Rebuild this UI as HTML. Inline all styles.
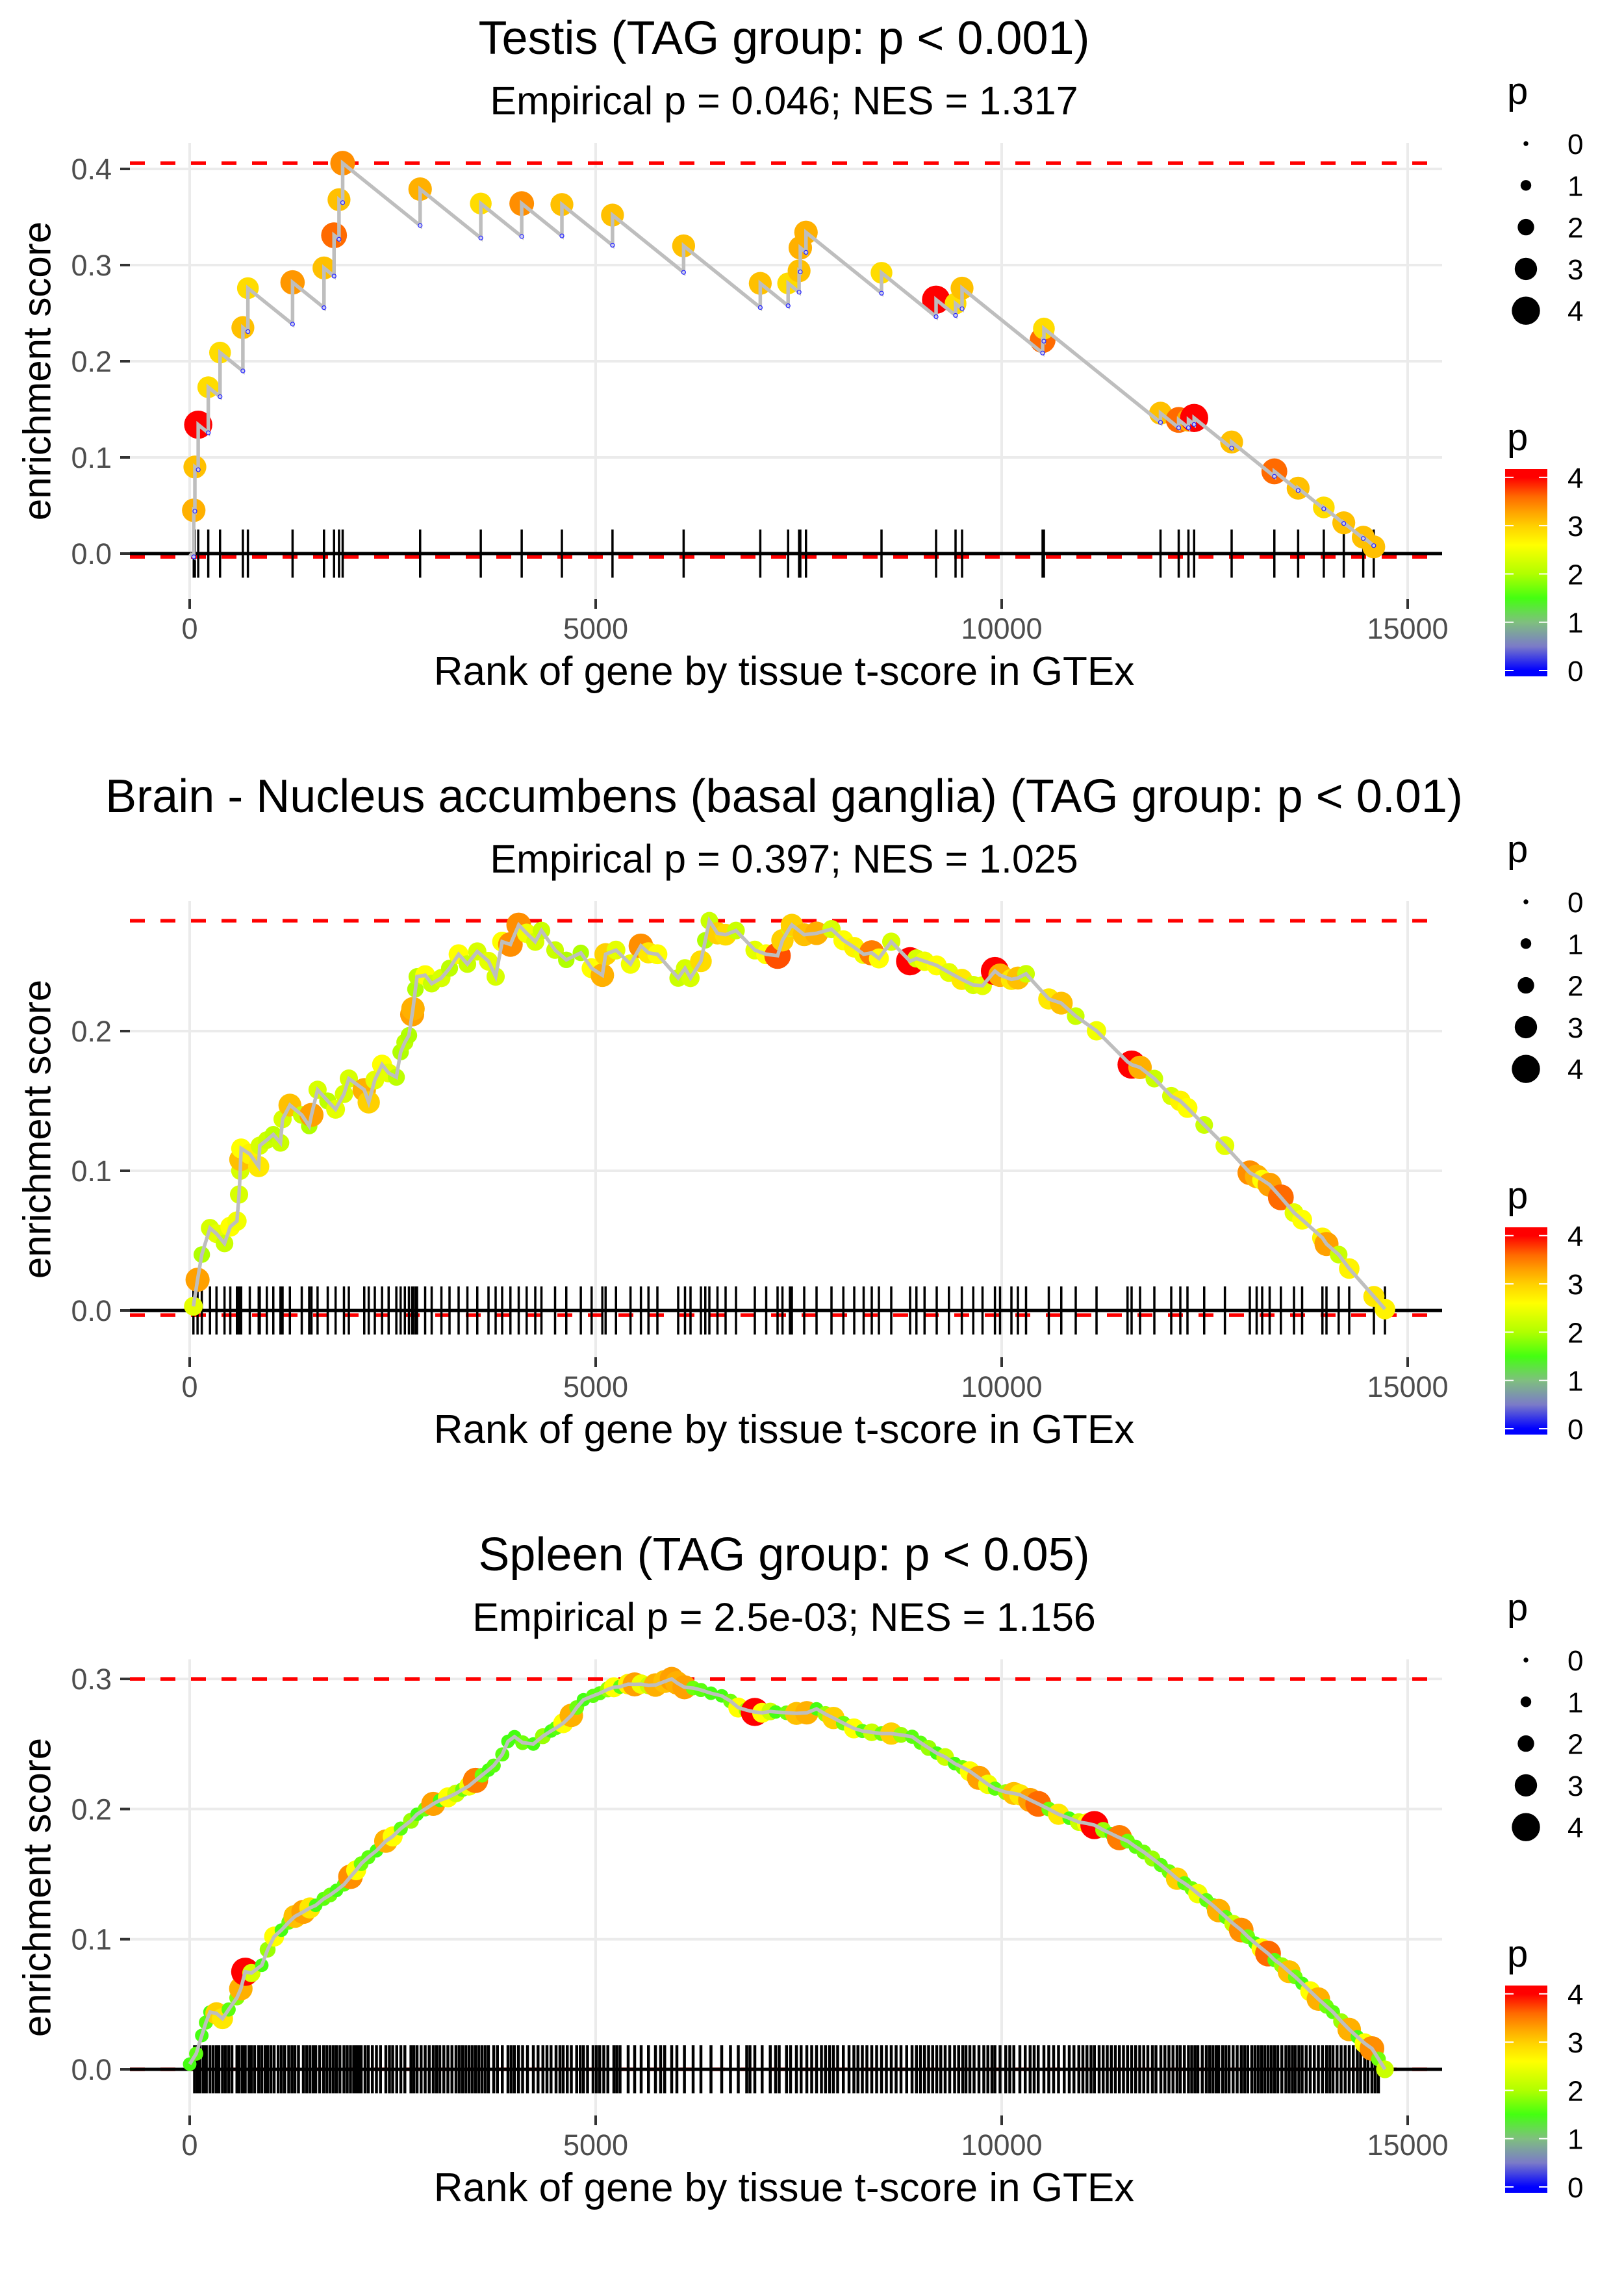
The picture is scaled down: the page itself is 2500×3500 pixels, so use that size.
<!DOCTYPE html>
<html><head><meta charset="utf-8"><style>
html,body{margin:0;padding:0;background:#fff}
svg{display:block}
text{font-family:"Liberation Sans",Arial,sans-serif}
</style></head><body>
<svg id="chart" xmlns="http://www.w3.org/2000/svg" width="2500" height="3500" viewBox="0 0 2500 3500">
<defs>
<linearGradient id="pgrad" gradientUnits="userSpaceOnUse" x1="0" y1="1032" x2="0" y2="735">
<stop offset="0" stop-color="#0000ff"/><stop offset="0.125" stop-color="#7b7bc8"/><stop offset="0.25" stop-color="#7fbf7f"/><stop offset="0.375" stop-color="#44ff11"/><stop offset="0.5" stop-color="#b0ff00"/><stop offset="0.65" stop-color="#ffff00"/><stop offset="0.75" stop-color="#ffd000"/><stop offset="0.825" stop-color="#ffa000"/><stop offset="0.9" stop-color="#ff6a00"/><stop offset="1" stop-color="#ff0000"/>
</linearGradient>
</defs>
</svg>
<script>
// ---------- data ----------
const panelTitles = ["Testis (TAG group: p < 0.001)", "Brain - Nucleus accumbens (basal ganglia) (TAG group: p < 0.01)", "Spleen (TAG group: p < 0.05)"];
const panelSubtitles = ["Empirical p = 0.046; NES = 1.317", "Empirical p = 0.397; NES = 1.025", "Empirical p = 2.5e-03; NES = 1.156"];
const xTicks = [0, 5000, 10000, 15000];
const yTicks1 = [0, 0.1, 0.2, 0.3, 0.4];
const yTicks2 = [0, 0.1, 0.2];
const yTicks3 = [0, 0.1, 0.2, 0.3];
const yTickLabels1 = ["0.0","0.1","0.2","0.3","0.4"];
const yTickLabels2 = ["0.0","0.1","0.2"];
const yTickLabels3 = ["0.0","0.1","0.2","0.3"];
const minES = [-0.0035, -0.0033, 0];
const declinePerRank = 6.8e-5;
// panel 1 hits
const ranks1 = [50,64,105,229,374,655,717,1267,1654,1778,1839,1884,2838,3585,4089,4584,5207,6083,7027,7370,7505,7520,7590,8520,9192,9432,9512,10504,10520,11956,12180,12300,12370,12832,13358,13651,13967,14213,14453,14582];
const es1 = [.045,.09,.134,.173,.209,.235,.276,.282,.297,.331,.368,.406,.379,.364,.364,.363,.352,.32,.281,.281,.294,.318,.334,.292,.264,.26,.276,.222,.234,.146,.139,.139,.141,.116,.0855,.068,.048,.032,.017,.007];
const p1 = [3.2,3.1,4.0,2.9,2.9,3.1,2.9,3.35,3.1,3.6,3.1,3.4,3.2,2.9,3.4,3.1,3.1,3.1,3.1,2.9,3.1,3.2,3.2,2.9,4.0,2.9,3.1,3.6,2.9,3.1,3.6,3.2,4.0,3.1,3.6,3.1,2.9,3.1,3.1,3.1];
// panel 2 hits
const ranks2 = [46,97,149,250,330,429,500,582,608,623,628,634,740,850,863,950,1030,1118,1144,1234,1380,1472,1500,1575,1700,1797,1900,1960,2150,2205,2280,2369,2450,2545,2598,2650,2700,2740,2750,2780,2800,2900,2980,3100,3200,3312,3420,3542,3680,3768,3848,3950,4052,4150,4256,4332,4500,4638,4817,4950,5082,5122,5250,5429,5557,5650,5760,6016,6100,6168,6296,6350,6400,6500,6600,6728,6960,7100,7240,7300,7392,7416,7568,7720,7904,8050,8184,8300,8400,8488,8640,8872,8950,9050,9200,9350,9509,9650,9764,9917,9980,10120,10200,10300,10580,10734,10912,11168,11550,11600,11704,11880,12088,12200,12288,12494,12749,13056,13140,13208,13300,13438,13600,13700,13950,14000,14150,14280,14584,14720];
const es2 = [.003,.022,.040,.059,.055,.048,.06,.064,.083,.100,.108,.116,.112,.103,.118,.122,.126,.120,.137,.147,.140,.132,.140,.158,.150,.144,.155,.166,.158,.149,.165,.176,.170,.167,.185,.192,.197,.212,.216,.230,.239,.240,.234,.238,.245,.255,.248,.257,.250,.239,.264,.262,.276,.270,.264,.272,.258,.251,.256,.245,.240,.255,.258,.248,.261,.256,.255,.238,.245,.238,.250,.265,.279,.270,.269,.272,.258,.255,.254,.265,.274,.276,.269,.270,.273,.265,.260,.255,.256,.252,.264,.250,.252,.250,.247,.242,.237,.233,.2325,.243,.240,.237,.238,.241,.223,.220,.2107,.2002,.178,.176,.174,.166,.1535,.150,.145,.1328,.118,.0986,.096,.0935,.090,.081,.070,.065,.052,.0476,.040,.030,.010,.001];
const p2 = [2.4,3.3,2.0,2.3,2.4,2.2,2.6,2.5,2.3,2.3,3.1,2.6,2.7,2.8,2.3,2.2,2.1,2.2,2.3,3.1,2.2,2.0,3.3,2.3,2.1,2.4,2.3,2.3,3.2,3.0,2.4,2.6,2.4,2.1,2.0,2.1,2.0,3.3,3.2,2.0,2.1,2.6,2.2,2.3,2.1,2.6,2.2,2.3,2.4,2.3,2.6,3.4,3.4,2.5,2.3,2.2,2.2,2.0,2.0,2.6,3.2,3.0,2.4,2.5,3.4,2.8,2.6,2.2,2.3,2.3,2.9,2.0,2.2,3.0,2.9,2.2,2.4,2.6,3.7,3.0,2.3,3.0,3.1,3.2,2.3,2.6,2.7,2.5,3.5,2.6,2.3,4.0,2.3,2.5,2.6,2.4,2.8,2.3,2.4,4.0,3.2,2.8,3.1,2.2,2.8,3.1,2.2,2.5,2.1,4.0,3.2,2.2,2.3,2.7,2.6,2.2,2.4,3.4,3.2,2.6,3.3,3.6,2.4,2.6,2.7,3.3,2.2,2.7,2.8,2.7];
// panel 3 hits
const ranks3 = [0,80,149,200,250,330,404,480,582,630,684,760,888,960,1040,1130,1220,1296,1400,1480,1552,1650,1730,1808,1900,1980,2050,2112,2200,2300,2416,2500,2600,2725,2800,2900,3000,3080,3180,3280,3360,3440,3520,3600,3680,3744,3850,3920,4000,4100,4232,4350,4450,4512,4600,4700,4766,4850,4968,5050,5150,5224,5300,5400,5480,5560,5650,5736,5850,5936,6000,6093,6200,6296,6420,6552,6660,6756,6860,6960,7050,7150,7216,7350,7472,7600,7720,7830,7928,8050,8180,8284,8400,8520,8640,8760,8896,9000,9100,9200,9304,9420,9520,9608,9720,9830,9917,10050,10150,10224,10350,10450,10580,10700,10832,10950,11050,11142,11250,11350,11450,11550,11650,11750,11856,11960,12060,12160,12250,12340,12416,12520,12600,12672,12760,12850,12950,13030,13120,13200,13280,13360,13450,13540,13616,13700,13800,13900,14000,14080,14180,14280,14380,14470,14560,14640,14720];
const es3 = [.004,.012,.026,.036,.044,.043,.039,.046,.055,.062,.075,.074,.080,.092,.102,.107,.113,.1175,.121,.124,.126,.131,.134,.1375,.142,.148,.153,.158,.163,.168,.1754,.179,.185,.191,.196,.200,.204,.2067,.209,.212,.215,.2178,.222,.226,.230,.2334,.242,.252,.2556,.251,.250,.256,.260,.2623,.266,.272,.278,.284,.287,.289,.292,.2936,.294,.296,.2958,.296,.295,.2953,.298,.300,.297,.2936,.293,.2915,.289,.287,.283,.278,.276,.2746,.274,.275,.2746,.274,.2735,.274,.277,.273,.270,.266,.262,.260,.259,.258,.258,.257,.2556,.251,.247,.243,.240,.235,.232,.229,.224,.219,.2157,.213,.212,.211,.207,.204,.200,.196,.193,.190,.189,.1877,.184,.181,.178,.1754,.171,.167,.162,.157,.152,.1465,.143,.139,.135,.130,.126,.122,.117,.112,.107,.102,.097,.093,.089,.084,.080,.075,.071,.066,.060,.054,.0484,.044,.037,.0306,.025,.020,.016,.008,.000];
const p3 = [1.5,1.6,1.5,1.6,1.5,3.0,2.8,1.6,1.8,3.2,4.0,2.3,1.5,1.9,2.6,1.5,1.7,3.1,3.3,2.8,1.5,1.6,1.7,1.5,1.6,3.4,2.6,1.7,1.6,1.5,3.2,2.6,1.6,1.9,1.5,1.7,3.3,1.5,2.6,2.2,1.7,2.5,3.5,1.7,1.5,1.6,1.6,1.5,1.5,1.7,1.5,1.9,1.5,1.6,2.6,3.2,1.7,1.5,1.6,1.6,1.9,2.6,1.6,2.7,3.3,2.5,2.2,3.2,3.1,3.3,3.2,3.3,1.7,1.6,1.5,1.5,1.7,2.6,1.9,4.0,2.6,2.2,1.5,1.7,3.1,3.2,1.5,1.9,3.0,1.7,2.6,1.6,2.2,1.7,3.0,1.9,1.6,1.6,1.9,1.5,2.2,1.5,1.7,2.6,3.3,2.5,1.6,1.9,3.1,2.8,3.3,3.6,1.7,2.8,1.5,2.2,2.6,4.0,1.9,1.5,3.5,1.7,1.6,1.7,1.9,1.6,1.7,3.0,1.6,1.7,2.5,1.6,1.7,3.2,1.6,2.2,3.4,1.7,1.5,2.6,3.6,1.6,1.9,3.1,1.7,1.5,2.6,3.2,1.7,1.6,1.9,3.2,1.5,2.6,3.4,1.7,2.2];
const rug3 = [60,95,130,170,205,250,290,330,360,404,440,480,520,582,610,650,684,730,760,800,850,888,930,960,1000,1040,1090,1130,1170,1220,1260,1296,1340,1400,1440,1480,1520,1552,1600,1650,1690,1730,1770,1808,1850,1900,1940,1980,2020,2050,2080,2112,2160,2200,2250,2300,2350,2416,2460,2500,2550,2600,2650,2725,2760,2800,2850,2900,2950,3000,3040,3080,3130,3180,3230,3280,3320,3360,3400,3440,3480,3520,3560,3600,3640,3680,3744,3790,3850,3920,3960,4000,4050,4100,4160,4232,4290,4350,4400,4450,4512,4560,4600,4650,4700,4766,4810,4850,4900,4968,5010,5050,5100,5150,5224,5260,5300,5400,5480,5560,5650,5736,5800,5850,5936,6000,6093,6200,6296,6420,6552,6660,6756,6860,6900,6960,7050,7150,7216,7260,7350,7400,7472,7530,7600,7660,7720,7780,7830,7880,7928,7980,8050,8120,8180,8230,8284,8340,8400,8460,8520,8580,8640,8700,8760,8830,8896,8950,9000,9050,9100,9150,9200,9250,9304,9360,9420,9470,9520,9560,9608,9660,9720,9780,9830,9880,9917,9980,10050,10100,10150,10224,10290,10350,10400,10450,10520,10580,10640,10700,10770,10832,10890,10950,11000,11050,11100,11142,11200,11250,11300,11350,11400,11450,11500,11550,11600,11650,11700,11750,11800,11856,11900,11960,12010,12060,12110,12160,12200,12250,12300,12340,12380,12416,12470,12520,12560,12600,12640,12672,12720,12760,12800,12850,12900,12950,12990,13030,13080,13120,13160,13200,13240,13280,13320,13360,13400,13450,13500,13540,13580,13616,13660,13700,13750,13800,13850,13900,13950,14000,14040,14080,14130,14180,14230,14280,14330,14380,14420,14470,14510,14560,14600,14640];
const legendSizes = [0, 1, 2, 3, 4];
const colorbarTicks = [0, 1, 2, 3, 4];

// ---------- helpers ----------
const NS = "http://www.w3.org/2000/svg";
const svg = document.getElementById("chart");
function mk(tag, attrs, parent, txt) {
  const e = document.createElementNS(NS, tag);
  for (const k in attrs) e.setAttribute(k, attrs[k]);
  if (txt !== undefined) e.textContent = txt;
  (parent || svg).appendChild(e);
  return e;
}
const colorStops = [[0,[0,0,255]],[0.5,[123,123,200]],[1,[127,191,127]],[1.5,[68,255,17]],[2,[176,255,0]],[2.6,[255,255,0]],[3,[255,208,0]],[3.3,[255,160,0]],[3.6,[255,106,0]],[4,[255,0,0]]];
function pColor(v) {
  v = Math.max(0, Math.min(4, v));
  for (let i = 1; i < colorStops.length; i++) {
    if (v <= colorStops[i][0]) {
      const a = colorStops[i-1], b = colorStops[i];
      const t = (v - a[0]) / (b[0] - a[0]);
      const c = a[1].map((x, j) => Math.round(x + (b[1][j] - x) * t));
      return "rgb(" + c.join(",") + ")";
    }
  }
  return "rgb(255,0,0)";
}
function pRadius(v) { return 3.7 + 4.5 * v; }
const X0 = 292, XPX = 0.125, PL = 200, PR = 2220, OFF = 1167;
function xs(r) { return X0 + r * XPX; }

const panels = [
  {ranks: ranks1, es: es1, p: p1, rug: ranks1, rugW: 3.5, yticks: yTicks1, ylabels: yTickLabels1, y0: 852, unit: 1480, steps: true},
  {ranks: ranks2, es: es2, p: p2, rug: ranks2, rugW: 3.5, yticks: yTicks2, ylabels: yTickLabels2, y0: 2017, unit: 2150, steps: false},
  {ranks: ranks3, es: es3, p: p3, rug: rug3, rugW: 4.5, yticks: yTicks3, ylabels: yTickLabels3, y0: 3185, unit: 2003, steps: false}
];

panels.forEach((P, k) => {
  const off = k * OFF;
  const ys = v => P.y0 - v * P.unit;
  const g = mk("g", {});
  
  
  const top = 220 + off, bot = 922 + off;

  const t = mk("text", {x: 1207, y: 83 + off, "text-anchor": "middle", "font-size": 72, fill: "#000"}, g, panelTitles[k]);
  
  
  const st = mk("text", {x: 1207, y: 176 + off, "text-anchor": "middle", "font-size": 61, fill: "#000"}, g, panelSubtitles[k]);
  
  

  P.yticks.forEach(v => {
    const l = mk("line", {x1: PL, x2: PR, y1: ys(v), y2: ys(v), stroke: "#ebebeb", "stroke-width": 4}, g);
    
    
  });
  xTicks.forEach(v => {
    const l = mk("line", {x1: xs(v), x2: xs(v), y1: top, y2: bot, stroke: "#ebebeb", "stroke-width": 4}, g);
    
    
  });
  P.yticks.forEach((v, i) => {
    const tk = mk("line", {x1: 185, x2: 200, y1: ys(v), y2: ys(v), stroke: "#333", "stroke-width": 4}, g);
    
    
    const lb = mk("text", {x: 172, y: ys(v) + 16, "text-anchor": "end", "font-size": 45, fill: "#4d4d4d"}, g, P.ylabels[i]);
    
    
  });
  xTicks.forEach(v => {
    const tk = mk("line", {x1: xs(v), x2: xs(v), y1: bot, y2: bot + 15, stroke: "#333", "stroke-width": 4}, g);
    
    
    const lb = mk("text", {x: xs(v), y: 983 + off, "text-anchor": "middle", "font-size": 45, fill: "#4d4d4d"}, g, String(v));
    
    
  });
  const xt = mk("text", {x: 1207, y: 1054 + off, "text-anchor": "middle", "font-size": 62, fill: "#000"}, g, "Rank of gene by tissue t-score in GTEx");
  
  
  const cy = (top + bot) / 2;
  const yt = mk("text", {x: 57, y: cy, "text-anchor": "middle", "dominant-baseline": "central", "font-size": 60, fill: "#000", transform: "rotate(-90 57 " + cy + ")"}, g, "enrichment score");
  
  

  const maxV = Math.max(...P.es);
  const dmax = mk("line", {x1: PL, x2: PR, y1: ys(maxV), y2: ys(maxV), stroke: "#ff0000", "stroke-width": 5.5, "stroke-dasharray": "23 24"}, g);
  
  
  const dmin = mk("line", {x1: PL, x2: PR, y1: ys(minES[k]), y2: ys(minES[k]), stroke: "#ff0000", "stroke-width": 5.5, "stroke-dasharray": "23 24"}, g);
  
  
  const zl = mk("line", {x1: PL, x2: PR, y1: ys(0), y2: ys(0), stroke: "#000", "stroke-width": 5}, g);
  
  

  P.rug.forEach(r => {
    const l = mk("line", {x1: xs(r), x2: xs(r), y1: ys(0) - 37, y2: ys(0) + 37, stroke: "#000", "stroke-width": P.rugW}, g);
    
    
  });
  P.ranks.forEach((r, i) => {
    const c = mk("circle", {cx: xs(r), cy: ys(P.es[i]), r: pRadius(P.p[i]), fill: pColor(P.p[i])}, g);
    
    
  });
  let d = "", bottoms = [];
  if (P.steps) {
    let prevR = 0, prevE = 0;
    d = "M" + xs(0) + "," + ys(0);
    P.ranks.forEach((r, i) => {
      const b = prevE - declinePerRank * (r - prevR);
      bottoms.push([r, b]);
      d += " L" + xs(r) + "," + ys(b) + " L" + xs(r) + "," + ys(P.es[i]);
      prevR = r; prevE = P.es[i];
    });
  } else {
    P.ranks.forEach((r, i) => { d += (i ? " L" : "M") + xs(r) + "," + ys(P.es[i]); });
  }
  const ln = mk("path", {d: d, fill: "none", stroke: "#bebebe", "stroke-width": 5.5, "stroke-linejoin": "miter"}, g);
  
  
  bottoms.forEach(b => {
    const c = mk("circle", {cx: xs(b[0]), cy: ys(b[1]), r: 3, fill: "#ccccee", stroke: "#2222ff", "stroke-width": 1.2}, g);
    
    
  });

  const lt = mk("text", {x: 2320, y: 160 + off, "font-size": 58, fill: "#000"}, g, "p");
  
  
  legendSizes.forEach((v, i) => {
    const yy = 221 + i * 64.3 + off;
    const c = mk("circle", {cx: 2349, cy: yy, r: pRadius(v), fill: "#000"}, g);
    
    
    const tx = mk("text", {x: 2413, y: yy + 16, "font-size": 44, fill: "#000"}, g, String(v));
    
    
  });
  const ct = mk("text", {x: 2320, y: 693 + off, "font-size": 58, fill: "#000"}, g, "p");
  
  
  const cg = mk("g", {transform: "translate(0," + off + ")"}, g);
  const bar = mk("rect", {x: 2317, y: 722, width: 65, height: 319, fill: "url(#pgrad)"}, cg);
  
  
  colorbarTicks.forEach(v => {
    const yy = 1032 - v * 74.3;
    mk("line", {x1: 2317, x2: 2330, y1: yy, y2: yy, stroke: "#fff", "stroke-width": 2}, cg);
    mk("line", {x1: 2369, x2: 2382, y1: yy, y2: yy, stroke: "#fff", "stroke-width": 2}, cg);
    const tx = mk("text", {x: 2413, y: yy + 16, "font-size": 44, fill: "#000"}, cg, String(v));
    
    
  });
});
</script>
</body></html>
